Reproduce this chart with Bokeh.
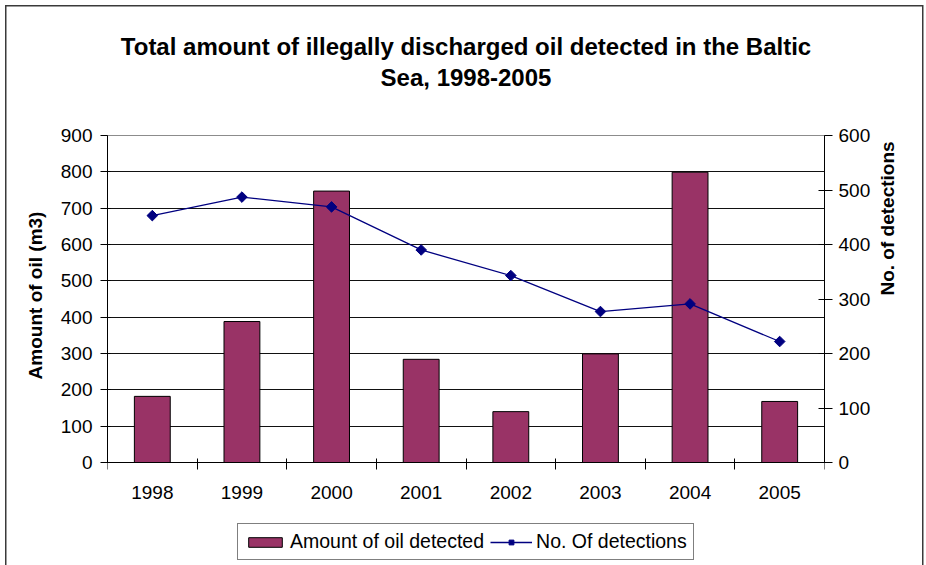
import math

from bokeh.core.properties import value
from bokeh.embed import file_html
from bokeh.models import (ColumnDataSource, FixedTicker, Grid, InlineStyleSheet, Label,
                          Legend, LegendItem, LinearAxis, Range1d, Span)
from bokeh.plotting import figure
from bokeh.resources import INLINE

# ---- data -------------------------------------------------------------
years = ["1998", "1999", "2000", "2001", "2002", "2003", "2004", "2005"]
oil_m3 = [182, 388, 747, 284, 140, 299, 799, 168]          # amount of oil detected (m3)
detections = [453, 487, 469, 390, 343, 277, 291, 222]      # number of detections
oil_ticks = [0, 100, 200, 300, 400, 500, 600, 700, 800, 900]
det_ticks = [0, 100, 200, 300, 400, 500, 600]

title_lines = ["Total amount of illegally discharged oil detected in the Baltic",
               "Sea, 1998-2005"]

# ---- layout -----------------------------------------------------------
# The plot frame covers the whole chart area (title, year labels and legend are
# drawn inside it); the value axes are bounded to their data span, which runs
# from pixel row TOP_Y (max value) down to ZERO_Y (zero).
W, H = 926, 565
F_LEFT, F_RIGHT, F_TOP = 107, 824, 25
TOP_Y, ZERO_Y = 135, 462
F_W = F_RIGHT - F_LEFT
ABOVE = TOP_Y - F_TOP              # frame pixels above the max value
BELOW = H - ZERO_Y                 # frame pixels below the zero line
YEAR_LABEL_DROP = 30               # year labels sit this far below the zero line

oil_px = (ZERO_Y - TOP_Y) / oil_ticks[-1]
det_px = (ZERO_Y - TOP_Y) / det_ticks[-1]

FONT = "Liberation Sans"
PLUM = "#993366"
NAVY = "#000080"

idx = list(range(len(years)))
src = ColumnDataSource(dict(x=idx, year=years, oil=oil_m3, det=detections,
                            label_y=[-YEAR_LABEL_DROP / oil_px] * len(years)))

p = figure(width=W, height=H, output_backend="svg", toolbar_location=None,
           x_range=Range1d(-0.5, len(years) - 0.5),
           y_range=Range1d(-BELOW / oil_px, oil_ticks[-1] + ABOVE / oil_px),
           x_axis_location=None, y_axis_location=None,
           min_border_left=F_LEFT, min_border_right=W - F_RIGHT,
           min_border_top=F_TOP, min_border_bottom=0)
p.extra_y_ranges = {"det": Range1d(-BELOW / det_px, det_ticks[-1] + ABOVE / det_px)}
p.background_fill_color = "white"
p.border_fill_alpha = 0
p.outline_line_color = None

# drop the default grids, keep only horizontal lines at the oil-axis ticks
p.center = [r for r in p.center if not isinstance(r, Grid)]
p.add_layout(Grid(dimension=1, ticker=FixedTicker(ticks=oil_ticks[1:-1]),
                  grid_line_color="#111111", grid_line_width=1))
# top edge of the plot area
p.add_layout(Span(location=oil_ticks[-1], dimension="width",
                  line_color="#8c8c8c", line_width=1))

tick_style = dict(major_label_text_font=FONT, major_label_text_font_size="19px",
                  major_label_text_color="black", axis_line_color="black",
                  axis_line_width=1, major_tick_line_color="black",
                  minor_tick_line_color="black",
                  axis_label_text_font=FONT, axis_label_text_font_size="19px",
                  axis_label_text_font_style="bold", axis_label_text_color="black")

# left axis: amount of oil
y_left = LinearAxis(ticker=FixedTicker(ticks=oil_ticks), bounds=(oil_ticks[0], oil_ticks[-1]),
                    major_tick_in=3, major_tick_out=7, minor_tick_in=0, minor_tick_out=0,
                    major_label_standoff=8, axis_label="Amount of oil (m3)",
                    axis_label_standoff=12, **tick_style)
p.add_layout(y_left, "left")

# right axis: number of detections (title reads bottom to top)
y_right = LinearAxis(y_range_name="det", ticker=FixedTicker(ticks=det_ticks),
                     bounds=(det_ticks[0], det_ticks[-1]),
                     major_tick_in=6, major_tick_out=8, minor_tick_in=0, minor_tick_out=0,
                     major_label_standoff=6, axis_label="No. of detections",
                     axis_label_standoff=14, **tick_style)
if "axis_label_orientation" in y_right.properties():
    y_right.axis_label_orientation = math.pi / 2
p.add_layout(y_right, "right")

# category axis pinned to the zero line: tick marks between the categories only
x_ticker = FixedTicker(ticks=[], minor_ticks=[i - 0.5 for i in range(len(years) + 1)])
x_axis = LinearAxis(ticker=x_ticker, fixed_location=0,
                    major_tick_in=0, major_tick_out=0,
                    minor_tick_in=4, minor_tick_out=7, major_label_standoff=0,
                    axis_line_color="black", axis_line_width=1,
                    minor_tick_line_color="black")
p.add_layout(x_axis, "below")

# ---- marks ------------------------------------------------------------
bars = p.vbar(x="x", top="oil", width=0.4, source=src,
              fill_color=PLUM, line_color="black", line_width=1)
line = p.line(x="x", y="det", source=src, y_range_name="det",
              line_color=NAVY, line_width=1.3)
pts = p.scatter(x="x", y="det", source=src, y_range_name="det", marker="square",
                angle=math.pi / 4, size=7.5, fill_color=NAVY, line_color=NAVY)

# year labels under each category
p.text(x="x", y="label_y", text="year", source=src, text_align="center",
       text_baseline="middle", text_font=value(FONT), text_font_size="19px",
       text_color="black")

# ---- legend -------------------------------------------------------------
legend = Legend(items=[LegendItem(label="Amount of oil detected", renderers=[bars]),
                       LegendItem(label="No. Of detections", renderers=[line, pts])],
                orientation="horizontal", location=(237 - F_LEFT, H - 560),
                border_line_color="black", border_line_width=1, background_fill_color="white",
                background_fill_alpha=1, padding=6, spacing=6, margin=0,
                glyph_width=42, glyph_height=12, label_standoff=4,
                label_text_font=FONT, label_text_font_size="19.5px", label_text_color="black")
p.add_layout(legend, "center")

# ---- title (two centred lines; baselines at rows 46 and 77) -------------
for text, baseline in zip(title_lines, (46, 77)):
    p.add_layout(Label(x=F_W / 2, y=H - baseline, x_units="screen", y_units="screen",
                       text=text, text_align="center", text_baseline="alphabetic",
                       text_font=FONT, text_font_style="bold",
                       text_font_size="24px", text_color="black"))

# chart-area border drawn as background strips (left, top and right edges)
edge = "linear-gradient(#3a3a3a, #3a3a3a)"
p.stylesheets = [InlineStyleSheet(css=f"""
:host {{
  background: {edge} 5px 5px / 1.5px 100% no-repeat,
              {edge} 5px 5px / 918px 1.5px no-repeat,
              {edge} 922px 5px / 1.5px 100% no-repeat,
              white;
}}
""")]

open("out.html", "w").write(file_html(p, INLINE))
